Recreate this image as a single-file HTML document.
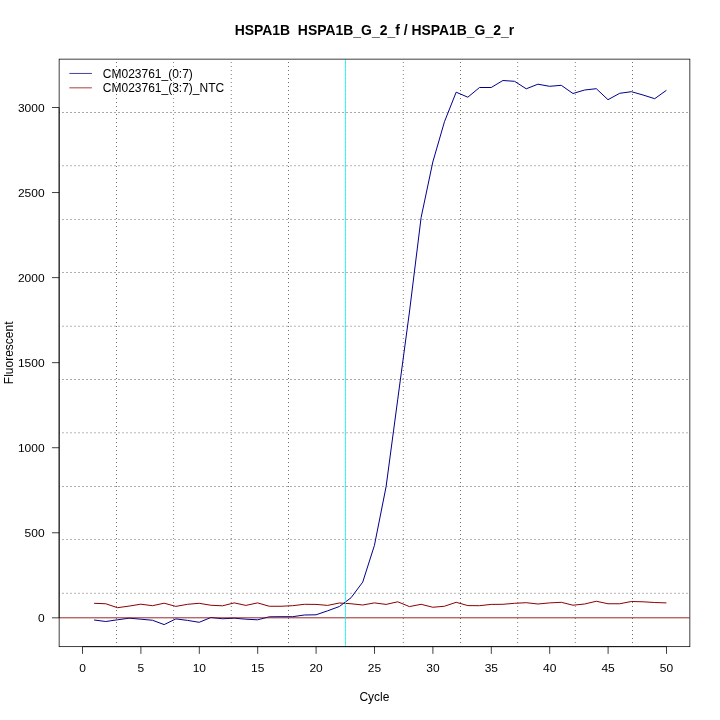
<!DOCTYPE html>
<html><head><meta charset="utf-8"><style>
html,body{margin:0;padding:0;background:#fff;}
svg{display:block;will-change:transform;}
text{font-family:"Liberation Sans",sans-serif;font-size:12px;fill:#000;}
</style></head><body>
<svg width="720" height="720" viewBox="0 0 720 720">
<defs>
<pattern id="pv" width="1" height="4" patternUnits="userSpaceOnUse"><rect x="0" y="2" width="1" height="1" fill="#000"/></pattern>
<pattern id="ph" width="4" height="1" patternUnits="userSpaceOnUse"><rect x="2" y="0" width="2" height="1" fill="#000"/></pattern>
<clipPath id="clip"><rect x="59.04" y="59.04" width="630.72" height="587.52"/></clipPath>
</defs>
<rect x="0" y="0" width="720" height="720" fill="#fff"/>
<text x="374.4" y="34.8" text-anchor="middle" font-weight="bold" style="font-size:14.4px" xml:space="preserve" textLength="279.5" lengthAdjust="spacingAndGlyphs">HSPA1B  HSPA1B<tspan dy="1">_</tspan><tspan dy="-1">G</tspan><tspan dy="1">_</tspan><tspan dy="-1">2</tspan><tspan dy="1">_</tspan><tspan dy="-1">f / HSPA1B</tspan><tspan dy="1">_</tspan><tspan dy="-1">G</tspan><tspan dy="1">_</tspan><tspan dy="-1">2</tspan><tspan dy="1">_</tspan><tspan dy="-1">r</tspan></text>
<g clip-path="url(#clip)">
<rect x="116" y="59" width="1" height="588" fill="url(#pv)" fill-opacity="0.570"/><rect x="59" y="112" width="631" height="1" fill="url(#ph)" fill-opacity="0.338"/><rect x="173" y="59" width="1" height="588" fill="url(#pv)" fill-opacity="0.440"/><rect x="59" y="165" width="631" height="1" fill="url(#ph)" fill-opacity="0.231"/><rect x="59" y="166" width="631" height="1" fill="url(#ph)" fill-opacity="0.064"/><rect x="230" y="59" width="1" height="588" fill="url(#pv)" fill-opacity="0.110"/><rect x="231" y="59" width="1" height="588" fill="url(#pv)" fill-opacity="0.387"/><rect x="59" y="219" width="631" height="1" fill="url(#ph)" fill-opacity="0.291"/><rect x="288" y="59" width="1" height="588" fill="url(#pv)" fill-opacity="0.570"/><rect x="59" y="272" width="631" height="1" fill="url(#ph)" fill-opacity="0.311"/><rect x="345" y="59" width="1" height="588" fill="url(#pv)" fill-opacity="0.429"/><rect x="59" y="325" width="631" height="1" fill="url(#ph)" fill-opacity="0.076"/><rect x="59" y="326" width="631" height="1" fill="url(#ph)" fill-opacity="0.211"/><rect x="402" y="59" width="1" height="588" fill="url(#pv)" fill-opacity="0.103"/><rect x="403" y="59" width="1" height="588" fill="url(#pv)" fill-opacity="0.398"/><rect x="59" y="379" width="631" height="1" fill="url(#ph)" fill-opacity="0.338"/><rect x="460" y="59" width="1" height="588" fill="url(#pv)" fill-opacity="0.570"/><rect x="59" y="432" width="631" height="1" fill="url(#ph)" fill-opacity="0.206"/><rect x="59" y="433" width="631" height="1" fill="url(#ph)" fill-opacity="0.079"/><rect x="517" y="59" width="1" height="588" fill="url(#pv)" fill-opacity="0.418"/><rect x="518" y="59" width="1" height="588" fill="url(#pv)" fill-opacity="0.091"/><rect x="59" y="486" width="631" height="1" fill="url(#ph)" fill-opacity="0.316"/><rect x="574" y="59" width="1" height="588" fill="url(#pv)" fill-opacity="0.096"/><rect x="575" y="59" width="1" height="588" fill="url(#pv)" fill-opacity="0.409"/><rect x="59" y="539" width="631" height="1" fill="url(#ph)" fill-opacity="0.287"/><rect x="632" y="59" width="1" height="588" fill="url(#pv)" fill-opacity="0.570"/><rect x="59" y="592" width="631" height="1" fill="url(#ph)" fill-opacity="0.061"/><rect x="59" y="593" width="631" height="1" fill="url(#ph)" fill-opacity="0.236"/>
<polyline points="94.08,620.00 105.76,621.50 117.44,619.80 129.12,618.20 140.80,619.20 152.48,620.25 164.16,624.60 175.84,618.90 187.52,620.40 199.20,622.30 210.88,617.50 222.56,618.75 234.24,618.20 245.92,619.20 257.60,619.80 269.28,616.80 280.96,616.70 292.64,616.70 304.32,615.00 316.00,614.80 327.68,610.80 339.36,606.50 351.04,597.75 362.72,582.10 374.40,545.50 386.08,486.70 397.76,399.20 409.44,312.00 421.12,217.50 432.80,162.00 444.48,121.70 456.16,92.20 467.84,97.20 479.52,87.50 491.20,87.50 502.88,80.50 514.56,81.30 526.24,88.80 537.92,84.20 549.60,86.30 561.28,85.30 572.96,93.50 584.64,90.00 596.32,88.70 608.00,99.70 619.68,93.30 631.36,91.70 643.04,95.00 654.72,98.70 666.40,90.30" fill="none" stroke="#00008B" stroke-width="1.0"/>
<polyline points="94.08,603.30 105.76,603.75 117.44,607.70 129.12,606.10 140.80,604.20 152.48,605.70 164.16,603.20 175.84,606.40 187.52,604.30 199.20,603.30 210.88,605.25 222.56,605.80 234.24,602.90 245.92,605.40 257.60,602.90 269.28,606.25 280.96,606.25 292.64,605.70 304.32,604.30 316.00,604.40 327.68,605.40 339.36,603.00 351.04,603.75 362.72,605.00 374.40,602.90 386.08,604.40 397.76,601.80 409.44,606.60 421.12,604.30 432.80,607.25 444.48,606.25 456.16,602.30 467.84,605.60 479.52,605.70 491.20,604.40 502.88,604.30 514.56,603.30 526.24,602.70 537.92,604.00 549.60,602.90 561.28,602.30 572.96,605.20 584.64,604.00 596.32,601.25 608.00,603.75 619.68,603.75 631.36,601.50 643.04,601.80 654.72,602.50 666.40,602.90" fill="none" stroke="#8B0000" stroke-width="1.0"/>
<line x1="59.04" y1="617.8" x2="689.76" y2="617.8" stroke="#8B0000" stroke-width="0.85"/>
<rect x="345" y="59" width="1" height="588" fill="#00FFFF" fill-opacity="0.77"/>
</g>
<rect x="59.14" y="59.14" width="630.72" height="587.52" fill="none" stroke="#000" stroke-width="0.75"/>
<g stroke="#000" stroke-width="0.75">
<line x1="59.14" y1="617.83" x2="59.14" y2="107.50"/>
<line x1="82.50" y1="646.66" x2="666.50" y2="646.66"/>
<line x1="82.50" y1="646.66" x2="82.50" y2="653.86"/><line x1="140.90" y1="646.66" x2="140.90" y2="653.86"/><line x1="199.30" y1="646.66" x2="199.30" y2="653.86"/><line x1="257.70" y1="646.66" x2="257.70" y2="653.86"/><line x1="316.10" y1="646.66" x2="316.10" y2="653.86"/><line x1="374.50" y1="646.66" x2="374.50" y2="653.86"/><line x1="432.90" y1="646.66" x2="432.90" y2="653.86"/><line x1="491.30" y1="646.66" x2="491.30" y2="653.86"/><line x1="549.70" y1="646.66" x2="549.70" y2="653.86"/><line x1="608.10" y1="646.66" x2="608.10" y2="653.86"/><line x1="666.50" y1="646.66" x2="666.50" y2="653.86"/><line x1="51.94" y1="617.83" x2="59.14" y2="617.83"/><line x1="51.94" y1="532.78" x2="59.14" y2="532.78"/><line x1="51.94" y1="447.72" x2="59.14" y2="447.72"/><line x1="51.94" y1="362.67" x2="59.14" y2="362.67"/><line x1="51.94" y1="277.61" x2="59.14" y2="277.61"/><line x1="51.94" y1="192.56" x2="59.14" y2="192.56"/><line x1="51.94" y1="107.50" x2="59.14" y2="107.50"/>
</g>
<text transform="translate(82.50 672) scale(1 0.93)" text-anchor="middle">0</text><text transform="translate(140.90 672) scale(1 0.93)" text-anchor="middle">5</text><text transform="translate(199.30 672) scale(1 0.93)" text-anchor="middle">10</text><text transform="translate(257.70 672) scale(1 0.93)" text-anchor="middle">15</text><text transform="translate(316.10 672) scale(1 0.93)" text-anchor="middle">20</text><text transform="translate(374.50 672) scale(1 0.93)" text-anchor="middle">25</text><text transform="translate(432.90 672) scale(1 0.93)" text-anchor="middle">30</text><text transform="translate(491.30 672) scale(1 0.93)" text-anchor="middle">35</text><text transform="translate(549.70 672) scale(1 0.93)" text-anchor="middle">40</text><text transform="translate(608.10 672) scale(1 0.93)" text-anchor="middle">45</text><text transform="translate(666.50 672) scale(1 0.93)" text-anchor="middle">50</text><text transform="translate(44.6 622.03) scale(1 0.93)" text-anchor="end">0</text><text transform="translate(44.6 536.98) scale(1 0.93)" text-anchor="end">500</text><text transform="translate(44.6 451.92) scale(1 0.93)" text-anchor="end">1000</text><text transform="translate(44.6 366.87) scale(1 0.93)" text-anchor="end">1500</text><text transform="translate(44.6 281.81) scale(1 0.93)" text-anchor="end">2000</text><text transform="translate(44.6 196.75) scale(1 0.93)" text-anchor="end">2500</text><text transform="translate(44.6 111.70) scale(1 0.93)" text-anchor="end">3000</text>
<text x="374.4" y="701" text-anchor="middle">Cycle</text>
<text transform="translate(13.2,352.8) rotate(-90)" text-anchor="middle">Fluorescent</text>
<line x1="69.4" y1="73.44" x2="91.9" y2="73.44" stroke="#00008B" stroke-width="0.75"/>
<line x1="69.4" y1="87.84" x2="91.9" y2="87.84" stroke="#8B0000" stroke-width="0.75"/>
<text x="102.8" y="77.8">CM023761_(0:7)</text>
<text x="102.8" y="92.2">CM023761_(3:7)_NTC</text>
</svg>
</body></html>
